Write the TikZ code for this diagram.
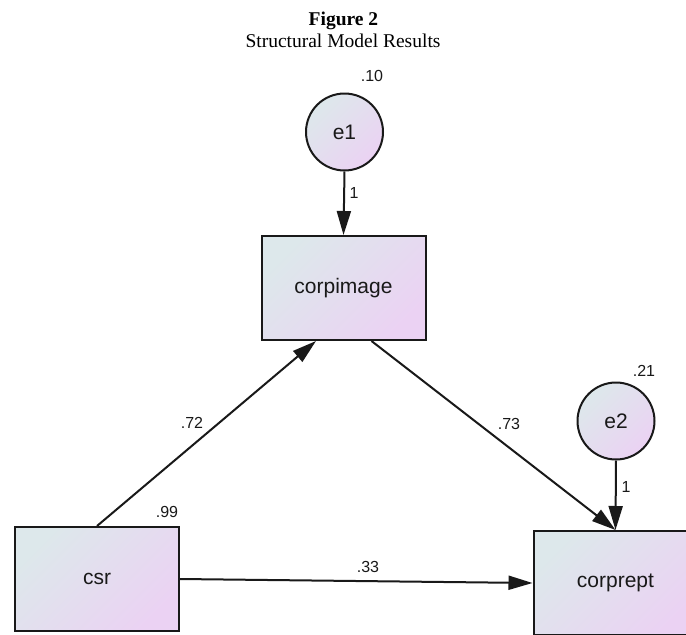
\documentclass[tikz,border=0pt]{standalone}
\usepackage{fontspec}
\setmainfont{Liberation Serif}
\setsansfont{Liberation Sans}
\usetikzlibrary{arrows.meta}
\definecolor{shadeA}{RGB}{221,232,235}
\definecolor{shadeB}{RGB}{235,210,243}
\definecolor{ink}{RGB}{25,25,25}
\tikzset{
  obsbox/.style={draw=ink, line width=2pt, minimum width=164pt, minimum height=104pt,
    top color=shadeA, bottom color=shadeB, shading angle=45,
    font=\sffamily\fontsize{21}{25}\selectfont, text=ink, inner sep=0pt},
  latcirc/.style={circle, draw=ink, line width=2pt, minimum size=77pt,
    top color=shadeA, bottom color=shadeB, shading angle=45,
    font=\sffamily\fontsize{21}{25}\selectfont, text=ink, inner sep=0pt},
  pathar/.style={draw=ink, line width=2pt, -{Triangle[length=24pt,width=14pt]}},
  numlab/.style={font=\sffamily\fontsize{16}{19}\selectfont, text=ink, anchor=base, inner sep=0pt},
  titlelab/.style={font=\fontsize{19.5}{23}\selectfont, anchor=base, inner sep=0pt}
}
\begin{document}
\begin{tikzpicture}[x=1pt,y=-1pt]
  \useasboundingbox (0,0) rectangle (686,635);
  % title
  \node[titlelab, font=\bfseries\fontsize{19.5}{23}\selectfont] (fig) at (343.5,25) {Figure 2};
  \node[titlelab] (sub) at (343,47) {Structural Model Results};
  % nodes
  \node[latcirc] (e1) at (344.5,132) {e1};
  \node[obsbox] (corpimage) at (343.5,288) {corpimage};
  \node[latcirc] (e2) at (616,421) {e2};
  \node[obsbox] (csr) at (97,579) {csr};
  \node[obsbox] (corprept) at (615.5,583) {corprept};
  % connectors
  \draw[pathar] (e1.south) -- (corpimage.north);
  \draw[pathar] (csr.north) -- ([xshift=-27.5pt]corpimage.south);
  \draw[pathar] ([xshift=28pt]corpimage.south) -- (corprept.north);
  \draw[pathar] (e2.south) -- (corprept.north);
  \draw[pathar] (csr.east) -- (corprept.west);
  % numbers
  \node[numlab] (v10) at (372,81) {.10};
  \node[numlab] (w1a) at (354,198) {1};
  \node[numlab] (b72) at (192,428) {.72};
  \node[numlab] (b73) at (509,429) {.73};
  \node[numlab] (v99) at (167,517) {.99};
  \node[numlab] (b33) at (368,572) {.33};
  \node[numlab] (v21) at (644,376) {.21};
  \node[numlab] (w1b) at (626,492) {1};
\end{tikzpicture}
\end{document}
